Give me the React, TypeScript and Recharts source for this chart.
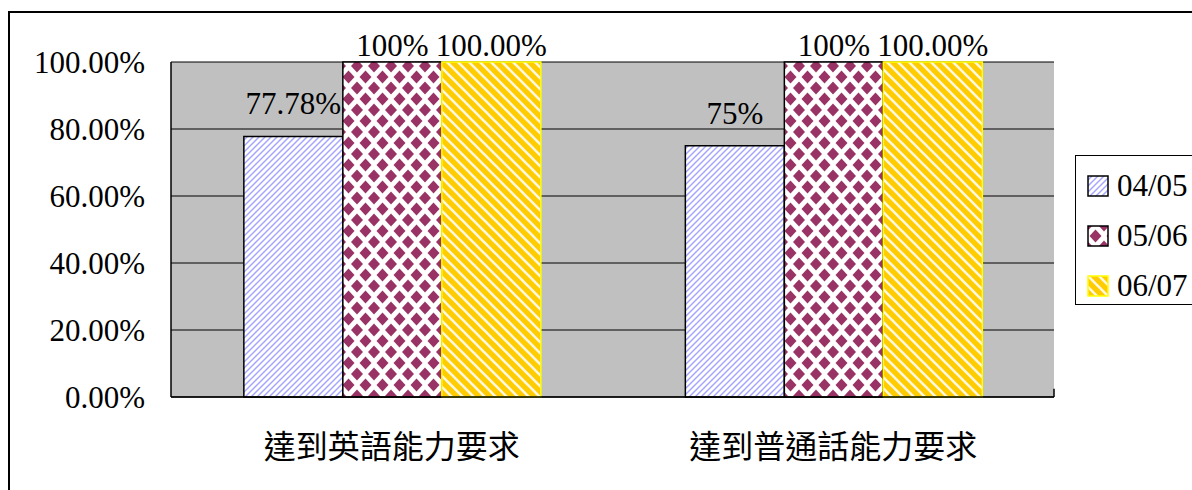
import React from "react";
import {
  BarChart,
  Bar,
  XAxis,
  YAxis,
  CartesianGrid,
  LabelList,
  ReferenceLine,
} from "recharts";

// data
const categories = ["達到英語能力要求", "達到普通話能力要求"];
const seriesNames = ["04/05", "05/06", "06/07"];
const values0405 = [0.7778, 0.75];
const values0506 = [1, 1];
const values0607 = [1, 1];
const labels0405 = ["77.78%", "75%"];
const labels0506 = ["100%", "100%"];
const labels0607 = ["100.00%", "100.00%"];
const yTicks = [0, 0.2, 0.4, 0.6, 0.8, 1];
const yTickLabels = ["0.00%", "20.00%", "40.00%", "60.00%", "80.00%", "100.00%"];

const FONT =
  "'Times New Roman', 'Liberation Serif', 'DejaVu Serif', 'Noto Sans CJK TC', serif";
const FILLS = ["url(#p0405)", "url(#p0506)", "url(#p0607)"];
const STROKES = ["#000", "#000", "#FFFF00"];

const data = categories.map((name, i) => ({
  name,
  s0: values0405[i],
  s1: values0506[i],
  s2: values0607[i],
}));

// Excel puts the label a bit above the bar, but keeps it inside the chart area
const makeLabel = (texts: string[]) => (props: any) => {
  const { x, y, width, index } = props;
  const baseline = Math.max(Number(y) - 22, 56);
  return (
    <text
      key={index}
      x={Number(x) + Number(width) / 2}
      y={baseline}
      textAnchor="middle"
      fontSize={31}
      fontFamily={FONT}
      fill="#000"
    >
      {texts[index]}
    </text>
  );
};

function Patterns() {
  return (
    <svg width={0} height={0} style={{ position: "absolute" }}>
      <defs>
        <pattern id="p0405" width="6" height="6" patternUnits="userSpaceOnUse">
          <rect width="6" height="6" fill="#fff" />
          <path
            d="M-1,1 l2,-2 M0,6 l6,-6 M5,7 l2,-2"
            stroke="#A6A6FF"
            strokeWidth="1.5"
          />
        </pattern>
        <pattern id="p0506" width="17" height="22" patternUnits="userSpaceOnUse">
          <rect width="17" height="22" fill="#fff" />
          <g fill="#993366">
            <path d="M8.5,4.5 L14.5,11 L8.5,17.5 L2.5,11Z" />
            <path d="M0,-6.5 L6,0 L0,6.5 L-6,0Z" />
            <path d="M17,-6.5 L23,0 L17,6.5 L11,0Z" />
            <path d="M0,15.5 L6,22 L0,28.5 L-6,22Z" />
            <path d="M17,15.5 L23,22 L17,28.5 L11,22Z" />
          </g>
        </pattern>
        <pattern id="p0607" width="11" height="11" patternUnits="userSpaceOnUse">
          <rect width="11" height="11" fill="#FFCC00" />
          <path
            d="M-1,10 l2,2 M0,0 l11,11 M10,-1 l2,2"
            stroke="#FFF8E0"
            strokeWidth="2.6"
          />
        </pattern>
      </defs>
    </svg>
  );
}

function LegendBox() {
  return (
    <div
      style={{
        position: "absolute",
        left: 1075,
        top: 155,
        width: 140,
        height: 150,
        boxSizing: "border-box",
        border: "1.5px solid #000",
        background: "#fff",
      }}
    >
      {seriesNames.map((name, i) => (
        <div
          key={name}
          style={{
            position: "absolute",
            left: 11,
            top: 12 + i * 50,
            height: 36,
            display: "flex",
            alignItems: "center",
            fontFamily: FONT,
            fontSize: 31,
            color: "#000",
            whiteSpace: "nowrap",
          }}
        >
          <svg width={22} height={22} style={{ marginRight: 8 }}>
            <rect
              x={1}
              y={1}
              width={20}
              height={20}
              fill={FILLS[i]}
              stroke={STROKES[i]}
              strokeWidth={1.5}
            />
          </svg>
          {name}
        </div>
      ))}
    </div>
  );
}

export default function App() {
  return (
    <div
      style={{
        position: "relative",
        width: 1192,
        height: 490,
        overflow: "hidden",
        background: "#fff",
      }}
    >
      <style>{`body{margin:0}`}</style>
      <Patterns />
      {/* chart area frame */}
      <div
        style={{
          position: "absolute",
          left: 8,
          top: 11,
          width: 1300,
          height: 600,
          border: "2px solid #000",
        }}
      />
      <div style={{ position: "absolute", left: 0, top: 0 }}>
        <BarChart
          width={1192}
          height={490}
          data={data}
          margin={{ top: 62, right: 138, left: 0, bottom: 0 }}
          barCategoryGap="16.5%"
          barGap={0}
        >
          <CartesianGrid
            vertical={false}
            fill="#C0C0C0"
            stroke="#000"
            strokeWidth={1}
          />
          <XAxis
            dataKey="name"
            height={93}
            interval={0}
            tickSize={0}
            tickMargin={38}
            axisLine={{ stroke: "#000", strokeWidth: 1.5 }}
            tick={{ fill: "#000", fontSize: 32, fontFamily: FONT }}
          />
          <XAxis
            xAxisId="edge"
            type="number"
            domain={[0, 2]}
            allowDataOverflow
            hide
          />
          <YAxis
            width={171}
            domain={[0, 1]}
            ticks={yTicks}
            interval={0}
            tickSize={0}
            tickMargin={26}
            tickFormatter={(v: number) => yTickLabels[yTicks.indexOf(v)]}
            axisLine={{ stroke: "#000", strokeWidth: 1.5 }}
            tick={{ fill: "#000", fontSize: 31, fontFamily: FONT }}
          />
          <ReferenceLine
            xAxisId="edge"
            x={2}
            stroke="#808080"
            strokeWidth={2}
          />
          <ReferenceLine
            xAxisId="edge"
            segment={[
              { x: 1, y: 0 },
              { x: 1, y: 0.025 },
            ]}
            stroke="#000"
            strokeWidth={1.5}
          />
          <Bar
            dataKey="s0"
            name={seriesNames[0]}
            fill={FILLS[0]}
            stroke={STROKES[0]}
            strokeWidth={1.5}
            isAnimationActive={false}
          >
            <LabelList dataKey="s0" content={makeLabel(labels0405)} />
          </Bar>
          <Bar
            dataKey="s1"
            name={seriesNames[1]}
            fill={FILLS[1]}
            stroke={STROKES[1]}
            strokeWidth={1.5}
            isAnimationActive={false}
          >
            <LabelList dataKey="s1" content={makeLabel(labels0506)} />
          </Bar>
          <Bar
            dataKey="s2"
            name={seriesNames[2]}
            fill={FILLS[2]}
            stroke={STROKES[2]}
            strokeWidth={1.5}
            isAnimationActive={false}
          >
            <LabelList dataKey="s2" content={makeLabel(labels0607)} />
          </Bar>
        </BarChart>
      </div>
      <LegendBox />
    </div>
  );
}
